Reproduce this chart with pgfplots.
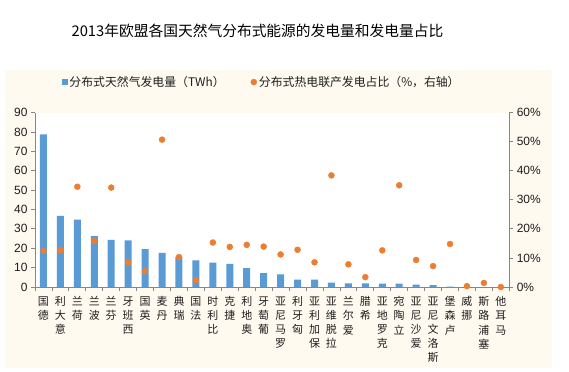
\documentclass[border=0pt]{standalone}
\usepackage{pgfplots}
\pgfplotsset{compat=1.18}
\usepackage{fontspec}
\setmainfont{Liberation Sans}
\newfontfamily\cjk{Noto Sans CJK SC}
\definecolor{barblue}{RGB}{91,155,213}
\definecolor{dotorange}{RGB}{237,125,49}
\definecolor{cream}{RGB}{254,250,239}
\definecolor{axgray}{RGB}{134,134,134}
\definecolor{txt}{RGB}{30,30,30}

\begin{document}
\begin{tikzpicture}
\useasboundingbox (0,0) rectangle (569bp,-372bp);
\fill[white] (0,0) rectangle (569bp,-372bp);
\fill[cream] (5bp,-70bp) rectangle (552bp,-368bp);
\node[font=\cjk\fontsize{14.8}{18}\selectfont, text=black] at (257.5bp,-31bp) {2013年欧盟各国天然气分布式能源的发电量和发电量占比};

\begin{axis}[
  at={(35bp,-287bp)}, anchor=south west,
  scale only axis, width=474.3bp, height=174.4bp,
  axis background/.style={fill=white},
  xmin=-0.5, xmax=27.5, ymin=0, ymax=90,
  axis x line*=bottom, axis y line*=left,
  axis line style={draw=axgray, line width=0.8bp},
  tick align=outside,
  ytick={0,10,...,90},
  major tick length=4bp,
  minor tick length=4bp,
  tick style={draw=axgray, line width=0.8bp},
  xtick={0,...,27},
  major x tick style={draw=none},
  minor x tick style={draw=axgray, line width=0.8bp},
  minor xtick={-0.5,0.5,...,27.5},
  xticklabels={{国\\德},{利\\大\\意},{兰\\荷},{兰\\波},{兰\\芬},{牙\\班\\西},{国\\英},{麦\\丹},{典\\瑞},{国\\法},{时\\利\\比},{克\\捷},{利\\地\\奥},{牙\\萄\\葡},{亚\\尼\\马\\罗},{利\\牙\\匈},{亚\\利\\加\\保},{亚\\维\\脱\\拉},{兰\\尔\\爱},{腊\\希},{亚\\地\\罗\\克},{宛\\陶\\立},{亚\\尼\\沙\\爱},{亚\\尼\\文\\洛\\斯},{堡\\森\\卢},{威\\挪},{斯\\路\\浦\\塞},{他\\耳\\马}},
  xticklabel style={font=\cjk\fontsize{11}{14.2}\selectfont, align=center, anchor=north, text=txt, yshift=-2bp},
  yticklabel style={font=\fontsize{12}{14}\selectfont, text=txt},
  /pgf/number format/assume math mode=true,
]
\addplot[ybar, bar width=7bp, fill=barblue, draw=none] coordinates {
(0,78.8) (1,36.7) (2,34.8) (3,26.2) (4,24.3) (5,24.1) (6,19.6) (7,17.6) (8,15.5) (9,13.8)
(10,12.6) (11,11.9) (12,9.8) (13,7.2) (14,6.5) (15,3.8) (16,3.8) (17,2.2) (18,1.9) (19,1.9)
(20,1.7) (21,1.7) (22,1.2) (23,1.0) (24,0.2) (25,0) (26,0) (27,0)};
\end{axis}

\begin{axis}[
  at={(35bp,-287bp)}, anchor=south west,
  scale only axis, width=474.3bp, height=174.4bp,
  xmin=-0.5, xmax=27.5, ymin=0, ymax=60,
  axis x line=none, axis y line*=right,
  axis line style={draw=axgray, line width=0.8bp},
  tick align=outside,
  major tick length=4bp,
  tick style={draw=axgray, line width=0.8bp},
  ytick={0,10,...,60},
  yticklabel={\pgfmathprintnumber{\tick}\%},
  yticklabel style={font=\fontsize{12}{14}\selectfont, text=txt},
  /pgf/number format/assume math mode=true,
  legend columns=2,
  legend style={at={(0.05,1.175)}, anchor=west, draw=none, fill=none,
    font=\cjk\fontsize{11.9}{13}\selectfont, text=txt,
    /tikz/every even column/.append style={column sep=24bp}},
  legend cell align=left,
]
\addlegendimage{legend image code/.code={\fill[barblue] (0bp,-2.6bp) rectangle (5.2bp,2.6bp);}}
\addlegendentry{分布式天然气发电量（TWh）}
\addplot[only marks, mark=*, mark size=3bp, color=dotorange, mark options={draw=none, fill=dotorange},
  legend image code/.code={\fill[dotorange] (3bp,0bp) circle (3bp);}] coordinates {
(0,12.4) (1,12.7) (2,34.5) (3,15.8) (4,34.2) (5,8.5) (6,5.4) (7,50.7) (8,10.3) (9,2.3)
(10,15.3) (11,13.8) (12,14.5) (13,13.9) (14,11.2) (15,12.8) (16,8.5) (17,38.4) (18,7.8) (19,3.4)
(20,12.6) (21,35.0) (22,9.3) (23,7.2) (24,14.8) (25,0.3) (26,1.4) (27,0.0)};
\addlegendentry{分布式热电联产发电占比（\%，右轴）}
\end{axis}
\end{tikzpicture}
\end{document}
